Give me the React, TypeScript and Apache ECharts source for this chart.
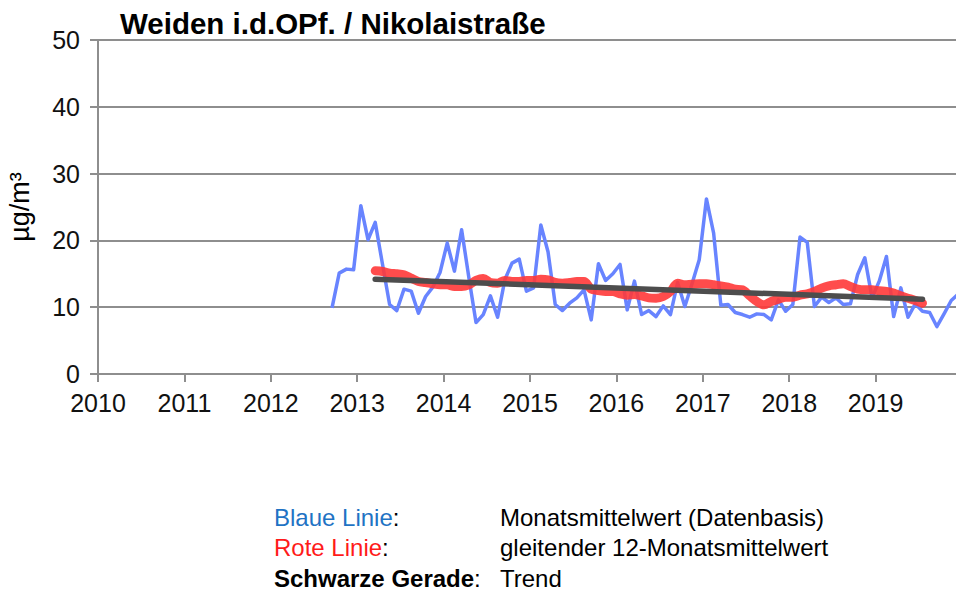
import React, { useEffect, useRef } from "react";
import * as echarts from "echarts";

// ---- data ----
const TITLE = "Weiden i.d.OPf. / Nikolaistraße";
const Y_UNIT = "µg/m³";
const X_TICKS = [2010, 2011, 2012, 2013, 2014, 2015, 2016, 2017, 2018, 2019];
const Y_TICKS = [0, 10, 20, 30, 40, 50];

// Monthly means (blue), starting September 2012
const BLUE_START_YEAR = 2012;
const BLUE_START_MONTH = 9;
const blueValues = [
  9.9, 15.1, 15.7, 15.6,
  25.2, 20.1, 22.7, 16.5, 10.4, 9.5, 12.7, 12.4, 9.1, 11.6, 13.0, 15.2,
  19.6, 15.4, 21.6, 14.5, 7.7, 8.9, 11.7, 8.5, 14.1, 16.6, 17.2, 12.4,
  12.9, 22.3, 18.3, 10.4, 9.5, 10.6, 11.4, 12.6, 8.1, 16.5, 14.0, 15.0,
  16.4, 9.6, 13.9, 8.9, 9.5, 8.6, 10.2, 8.9, 13.7, 10.1, 13.5, 17.1,
  26.2, 21.1, 10.3, 10.4, 9.2, 8.9, 8.5, 9.0, 8.9, 8.1, 11.1, 9.4,
  10.4, 20.5, 19.7, 10.1, 11.5, 10.7, 11.4, 10.4, 10.5, 14.9, 17.4, 11.4,
  13.9, 17.6, 8.6, 12.9, 8.5, 10.5, 9.4, 9.2, 7.1, 9.0, 11.0, 12.0,
];

// 12-month moving average (red), starting March 2013
const RED_START_YEAR = 2013;
const RED_START_MONTH = 3;
const redValues = [
  15.45, 15.35, 15.1, 15.0, 14.85, 14.35, 13.85, 13.7, 13.5, 13.35,
  13.35, 13.1, 13.1, 13.35, 14.0, 14.3, 13.7, 13.6, 14.0, 13.85, 13.85, 14.0,
  14.0, 14.2, 14.1, 13.7, 13.6, 13.7, 13.85, 13.85, 12.7, 12.5, 12.35, 12.35,
  12.0, 11.8, 11.9, 11.7, 11.4, 11.35, 11.6, 12.35, 13.6, 13.35, 13.45, 13.5,
  13.5, 13.35, 13.2, 13.0, 12.7, 12.6, 11.7, 10.85, 10.35, 10.85, 11.2, 11.5,
  11.5, 11.8, 12.0, 12.35, 12.85, 13.2, 13.35, 13.5, 13.1, 12.7, 12.6, 12.6,
  12.45, 12.35, 12.1, 11.7, 11.35, 11.0, 10.6,
];

// Trend line (black), endpoints: [year, value]
const trendPoints: [number, number][] = [
  [2013.208, 14.2],
  [2019.542, 11.2],
];

const LEGEND_ROWS = [
  { label: "Blaue Linie", color: "#1f73c4", bold: false, text: "Monatsmittelwert (Datenbasis)" },
  { label: "Rote Linie", color: "#ff1a1a", bold: false, text: "gleitender 12-Monatsmittelwert" },
  { label: "Schwarze Gerade", color: "#000000", bold: true, text: "Trend" },
];

function monthly(startYear: number, startMonth: number, values: number[]): [number, number][] {
  return values.map((v, i) => [startYear + (startMonth - 1 + i + 0.5) / 12, v]);
}

const FONT = "'Liberation Sans', Arial, sans-serif";

export default function App() {
  const ref = useRef<HTMLDivElement>(null);

  useEffect(() => {
    document.body.style.margin = "0";
    const chart = echarts.init(ref.current!, null, { renderer: "svg" });
    const gridColor = "#8e8e8e";

    const legendGraphics: any[] = [];
    LEGEND_ROWS.forEach((row, i) => {
      const y = 517 + i * 30.5;
      legendGraphics.push({
        type: "text",
        x: 274,
        y,
        style: {
          text: `{a|${row.label}}{b|:}`,
          textVerticalAlign: "middle",
          rich: {
            a: { fill: row.color, fontSize: 24, fontFamily: FONT, fontWeight: row.bold ? "bold" : "normal" },
            b: { fill: "#000", fontSize: 24, fontFamily: FONT },
          },
        },
      });
      legendGraphics.push({
        type: "text",
        x: 500,
        y,
        style: {
          text: row.text,
          fill: "#000",
          fontSize: 24,
          fontFamily: FONT,
          textVerticalAlign: "middle",
        },
      });
    });

    chart.setOption({
      animation: false,
      backgroundColor: "#ffffff",
      grid: { left: 98, right: 0, top: 40, bottom: 218 },
      xAxis: {
        type: "value",
        min: X_TICKS[0],
        max: 2019.93,
        interval: 1,
        axisLine: { show: true, lineStyle: { color: gridColor, width: 2 } },
        axisTick: { show: true, length: 8, inside: false, lineStyle: { color: gridColor, width: 2 } },
        axisLabel: {
          fontSize: 25,
          fontFamily: FONT,
          color: "#111",
          margin: 16,
          showMaxLabel: false,
          formatter: (v: number) => (X_TICKS.includes(Math.round(v)) ? String(Math.round(v)) : ""),
        },
        splitLine: { show: false },
      },
      yAxis: {
        type: "value",
        min: Y_TICKS[0],
        max: Y_TICKS[Y_TICKS.length - 1],
        interval: 10,
        axisLine: { show: true, lineStyle: { color: gridColor, width: 2 } },
        axisTick: { show: true, length: 8, inside: false, lineStyle: { color: gridColor, width: 2 } },
        axisLabel: { fontSize: 25, fontFamily: FONT, color: "#111", margin: 18 },
        splitLine: { show: true, lineStyle: { color: gridColor, width: 2 } },
      },
      graphic: [
        {
          type: "text",
          x: 120,
          y: 23,
          style: {
            text: TITLE,
            fill: "#000",
            fontSize: 29.5,
            fontWeight: "bold",
            fontFamily: FONT,
            textVerticalAlign: "middle",
          },
        },
        {
          type: "text",
          x: 20,
          y: 207,
          rotation: Math.PI / 2,
          style: {
            text: Y_UNIT,
            fill: "#000",
            fontSize: 27,
            fontFamily: FONT,
            textAlign: "center",
            textVerticalAlign: "middle",
          },
        },
        ...legendGraphics,
      ],
      series: [
        {
          type: "line",
          data: monthly(BLUE_START_YEAR, BLUE_START_MONTH, blueValues),
          showSymbol: false,
          clip: true,
          lineStyle: { color: "#6884ff", width: 3.5, join: "round" },
          z: 2,
        },
        {
          type: "line",
          data: monthly(RED_START_YEAR, RED_START_MONTH, redValues),
          showSymbol: false,
          smooth: 0.3,
          lineStyle: { color: "#ff3838", width: 9, opacity: 0.9, cap: "round" },
          z: 3,
        },
        {
          type: "line",
          data: trendPoints,
          showSymbol: false,
          lineStyle: { color: "#4d4d4d", width: 5.5, cap: "round" },
          z: 4,
        },
      ],
    });
    return () => chart.dispose();
  }, []);

  return <div ref={ref} style={{ width: 956, height: 592 }} />;
}
